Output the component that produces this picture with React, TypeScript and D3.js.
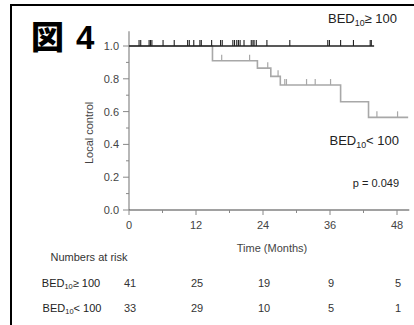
import { useRef, useEffect } from "react";
import * as d3 from "d3";

// months on the x axis, survival proportion on the y axis
const monthTicks = [0, 12, 24, 36, 48];
const monthMinorTicks = [6, 18, 30, 42];
const controlTicks = [0, 0.2, 0.4, 0.6, 0.8, 1.0];
const controlMinorTicks = [0.1, 0.3, 0.5, 0.7, 0.9];

// BED10 >= 100: no events, follow-up ends ~43.9 months
const highEndMonth = 43.9;
const highCensored = [
  1.8, 2.1, 3.6, 3.85, 4.1, 6.1, 8.1, 10.5, 10.8, 11.6, 12.7, 12.95, 14.8,
  16.4, 16.7, 18.6, 18.9, 19.3, 19.6, 19.9, 20.6, 21.9, 22.2, 22.4, 22.8,
  24.7, 28.8, 35.6, 35.9, 37.9, 40.2, 43.2, 43.4,
];

// BED10 < 100
const lowEventMonths = [14.95, 23.0, 25.4, 27.1, 37.9, 42.9];
const lowSurvival = [0.91, 0.865, 0.815, 0.762, 0.66, 0.565];
const lowEndMonth = 50;
const lowCensored = [16.6, 21.6, 24.85, 26.7, 27.9, 28.2, 31.8, 33.35, 36.1, 44.4, 48.1];

const riskHigh = [41, 25, 19, 9, 5];
const riskLow = [33, 29, 10, 5, 1];

const FONT = "'Liberation Sans', Arial, Helvetica, sans-serif";

export default function App() {
  const svgRef = useRef<SVGSVGElement>(null);

  useEffect(() => {
    if (!svgRef.current) return;
    document.body.style.margin = "0";
    document.body.style.overflow = "hidden";
    document.documentElement.style.overflow = "hidden";

    const width = 414;
    const height = 325;
    const svg = d3.select(svgRef.current);
    svg.selectAll("*").remove();
    svg.attr("width", width).attr("height", height).style("font-family", FONT);

    const x = d3.scaleLinear().domain([0, 48]).range([129, 397]);
    const y = d3.scaleLinear().domain([0, 1]).range([210, 46]);

    // frame (cropped on right and bottom)
    svg.append("path")
      .attr("d", `M11,${height + 2}V5H${width + 2}`)
      .attr("fill", "none")
      .attr("stroke", "#000")
      .attr("stroke-width", 2);

    // figure label
    const title = svg.append("text")
      .attr("x", 31)
      .attr("y", 49)
      .attr("font-family", "'Noto Sans CJK JP', sans-serif")
      .attr("font-weight", 900)
      .attr("font-size", 33)
      .attr("fill", "#000");
    title.append("tspan").text("図");
    title.append("tspan").attr("x", 76).attr("font-family", FONT).attr("font-weight", 700).text("4");

    // axes
    const axisY = svg.append("g");
    axisY.append("line")
      .attr("x1", x(0)).attr("x2", x(0))
      .attr("y1", y(0)).attr("y2", y(1.09))
      .attr("stroke", "#888").attr("stroke-width", 1.2);
    axisY.selectAll(".maj")
      .data(controlTicks)
      .join("line")
      .attr("x1", x(0) - 6).attr("x2", x(0))
      .attr("y1", (d) => y(d)).attr("y2", (d) => y(d))
      .attr("stroke", "#888");
    axisY.selectAll(".min")
      .data(controlMinorTicks)
      .join("line")
      .attr("class", "min")
      .attr("x1", x(0) - 3).attr("x2", x(0))
      .attr("y1", (d) => y(d)).attr("y2", (d) => y(d))
      .attr("stroke", "#888");
    axisY.selectAll("text")
      .data(controlTicks)
      .join("text")
      .attr("x", x(0) - 10)
      .attr("y", (d) => y(d) + 4)
      .attr("text-anchor", "end")
      .attr("font-size", 11)
      .attr("fill", "#444")
      .text((d) => d.toFixed(1));

    svg.append("text")
      .attr("transform", `translate(93,${y(0.47)}) rotate(-90)`)
      .attr("text-anchor", "middle")
      .attr("font-size", 11)
      .attr("fill", "#444")
      .text("Local control");

    const axisX = svg.append("g");
    axisX.append("line")
      .attr("x1", x(0)).attr("x2", x(50.2))
      .attr("y1", y(0)).attr("y2", y(0))
      .attr("stroke", "#444").attr("stroke-width", 1.2);
    axisX.selectAll(".maj")
      .data(monthTicks)
      .join("line")
      .attr("x1", (d) => x(d)).attr("x2", (d) => x(d))
      .attr("y1", y(0)).attr("y2", y(0) + 5)
      .attr("stroke", "#888");
    axisX.selectAll(".min")
      .data(monthMinorTicks)
      .join("line")
      .attr("class", "min")
      .attr("x1", (d) => x(d)).attr("x2", (d) => x(d))
      .attr("y1", y(0)).attr("y2", y(0) + 3)
      .attr("stroke", "#888");
    axisX.selectAll("text")
      .data(monthTicks)
      .join("text")
      .attr("x", (d) => x(d))
      .attr("y", 229)
      .attr("text-anchor", "middle")
      .attr("font-size", 11)
      .attr("fill", "#444")
      .text((d) => d);

    svg.append("text")
      .attr("x", 272)
      .attr("y", 252)
      .attr("text-anchor", "middle")
      .attr("font-size", 11)
      .attr("fill", "#444")
      .text("Time (Months)");

    // low-dose curve (gray), drawn first
    const lowPts: [number, number][] = [[0, 1]];
    lowEventMonths.forEach((m, i) => lowPts.push([m, lowSurvival[i]]));
    lowPts.push([lowEndMonth, lowSurvival[lowSurvival.length - 1]]);
    const step = d3.line<[number, number]>()
      .x((d) => x(d[0]))
      .y((d) => y(d[1]))
      .curve(d3.curveStepAfter);
    svg.append("path")
      .datum(lowPts)
      .attr("fill", "none")
      .attr("stroke", "#a8a8a8")
      .attr("stroke-width", 1.6)
      .attr("d", step);

    const lowAt = (m: number) => {
      let s = 1;
      lowEventMonths.forEach((t, i) => { if (t <= m) s = lowSurvival[i]; });
      return s;
    };
    svg.selectAll(".lowc")
      .data(lowCensored)
      .join("line")
      .attr("class", "lowc")
      .attr("x1", (d) => x(d)).attr("x2", (d) => x(d))
      .attr("y1", (d) => y(lowAt(d))).attr("y2", (d) => y(lowAt(d)) - 6)
      .attr("stroke", "#a8a8a8")
      .attr("stroke-width", 1.2);

    // high-dose curve (black)
    svg.append("path")
      .datum([[0, 1], [highEndMonth, 1]] as [number, number][])
      .attr("fill", "none")
      .attr("stroke", "#222")
      .attr("stroke-width", 1.6)
      .attr("d", step);
    svg.selectAll(".highc")
      .data(highCensored)
      .join("line")
      .attr("class", "highc")
      .attr("x1", (d) => x(d)).attr("x2", (d) => x(d))
      .attr("y1", y(1)).attr("y2", y(1) - 6)
      .attr("stroke", "#222")
      .attr("stroke-width", 1.1);

    // BED label helper
    const bedLabel = (
      gx: number, gy: number, sign: string, size: number, anchor: string
    ) => {
      const t = svg.append("text")
        .attr("x", gx).attr("y", gy)
        .attr("text-anchor", anchor)
        .attr("font-size", size)
        .attr("fill", "#222");
      t.append("tspan").text("BED");
      t.append("tspan").attr("font-size", size * 0.68).attr("dy", size * 0.22).text("10");
      t.append("tspan").attr("dy", -size * 0.22).text(sign + " 100");
    };

    bedLabel(397, 23, "\u2265", 13, "end");
    bedLabel(399, 145, "<", 13, "end");

    svg.append("text")
      .attr("x", 399).attr("y", 187)
      .attr("text-anchor", "end")
      .attr("font-size", 11)
      .attr("fill", "#222")
      .text("p = 0.049");

    // numbers at risk table
    svg.append("text")
      .attr("x", 89).attr("y", 261)
      .attr("text-anchor", "middle")
      .attr("font-size", 11)
      .attr("fill", "#333")
      .text("Numbers at risk");

    bedLabel(71, 287, "\u2265", 11, "middle");
    bedLabel(72, 312, "<", 11, "middle");

    const rows = [
      { vals: riskHigh, yy: 287 },
      { vals: riskLow, yy: 312 },
    ];
    rows.forEach((r) => {
      svg.append("g")
        .selectAll("text")
        .data(r.vals)
        .join("text")
        .attr("x", (_, i) => x(monthTicks[i]) + 1)
        .attr("y", r.yy)
        .attr("text-anchor", "middle")
        .attr("font-size", 11)
        .attr("fill", "#333")
        .text((d) => d);
    });
  }, []);

  return (
    <svg
      ref={svgRef}
      style={{ position: "absolute", left: 0, top: 0, display: "block", overflow: "hidden" }}
    />
  );
}
